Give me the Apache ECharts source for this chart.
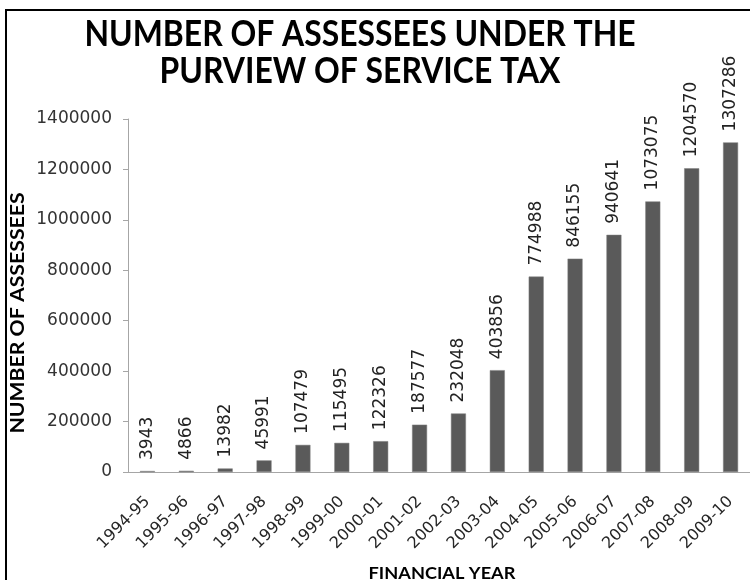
<!DOCTYPE html>
<html>
<head>
<meta charset="utf-8">
<script src="https://cdn.jsdelivr.net/npm/echarts@6/dist/echarts.min.js"></script>
<style>
html,body{margin:0;padding:0;background:#fff;}
#chart{width:750px;height:580px;}
</style>
</head>
<body>
<div id="chart"></div>
<script>
const categories = ['1994-95','1995-96','1996-97','1997-98','1998-99','1999-00','2000-01','2001-02','2002-03','2003-04','2004-05','2005-06','2006-07','2007-08','2008-09','2009-10'];
const assessees = [3943,4866,13982,45991,107479,115495,122326,187577,232048,403856,774988,846155,940641,1073075,1204570,1307286];
const yMin = 0, yMax = 1400000, yStep = 200000;
const titleLines = ['NUMBER OF ASSESSEES UNDER THE','PURVIEW OF SERVICE TAX'];
const yTitle = 'NUMBER OF ASSESSEES';
const xTitle = 'FINANCIAL YEAR';

const chart = echarts.init(document.getElementById('chart'), null, {renderer:'canvas'});
const numFont = 'DejaVu Sans';
const boldFont = 'Lato, sans-serif';
chart.setOption({
  animation:false,
  backgroundColor:'#fff',
  grid:{left:128, top:119, right:-8, bottom:108, containLabel:false},
  xAxis:{
    type:'category', data:categories,
    axisLine:{lineStyle:{color:'#a6a6a6', width:1}},
    axisTick:{show:false},
    axisLabel:{rotate:45, margin:27, fontFamily:numFont, fontSize:16, color:'#262626', interval:0}
  },
  yAxis:{
    type:'value', min:yMin, max:yMax, interval:yStep,
    splitLine:{show:false},
    axisLine:{show:true, lineStyle:{color:'#a6a6a6', width:1}},
    axisTick:{show:true, length:5, lineStyle:{color:'#a6a6a6'}},
    axisLabel:{margin:16, fontFamily:numFont, fontSize:17, color:'#333', formatter:(v)=>String(v)}
  },
  series:[{
    type:'bar', data:assessees, barWidth:15,
    itemStyle:{color:'#5a5a5a', borderColor:'#7f7f7f', borderWidth:0.5},
    label:{show:true, position:'top', rotate:90, align:'left', verticalAlign:'middle', distance:11,
      fontFamily:numFont, fontSize:17, color:'#222'}
  }],
  graphic:[
    {type:'rect', shape:{x:6, y:10, width:900, height:800}, style:{fill:'none', stroke:'#000', lineWidth:2}, silent:true},
    {type:'text', x:360, y:34, scaleX:0.862, style:{text:titleLines[0], fontFamily:boldFont, fontWeight:'bold', fontSize:37, fill:'#000', align:'center', verticalAlign:'middle'}},
    {type:'text', x:360, y:71, scaleX:0.862, style:{text:titleLines[1], fontFamily:boldFont, fontWeight:'bold', fontSize:37, fill:'#000', align:'center', verticalAlign:'middle'}},
    {type:'text', x:18, y:313, rotation:Math.PI/2, scaleX:1.18, style:{text:yTitle, fontFamily:boldFont, fontWeight:'bold', fontSize:18, fill:'#000', align:'center', verticalAlign:'middle'}},
    {type:'text', x:442, y:574, scaleX:1.07, style:{text:xTitle, fontFamily:boldFont, fontWeight:'bold', fontSize:17, fill:'#000', align:'center', verticalAlign:'middle'}}
  ]
});
</script>
</body>
</html>
